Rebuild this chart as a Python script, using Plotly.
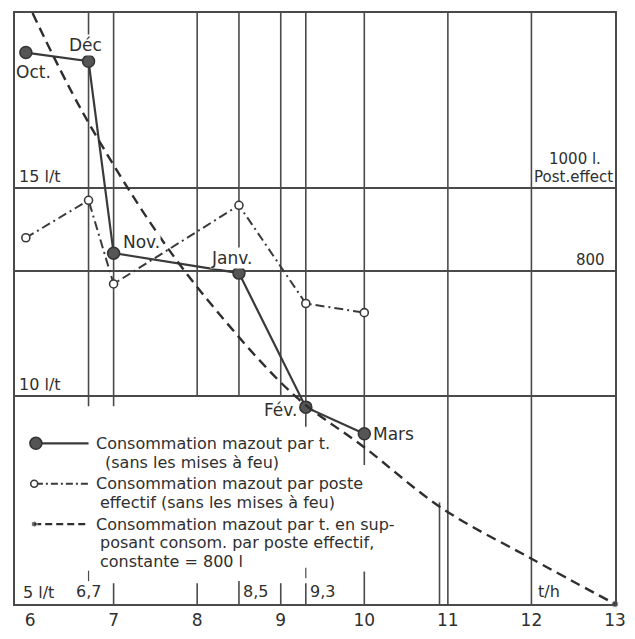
import plotly.graph_objects as go

# ---- data -------------------------------------------------------------
months = ["Oct.", "Déc", "Nov.", "Janv.", "Fév.", "Mars"]
tonnes_per_hour = [5.95, 6.7, 7.0, 8.5, 9.3, 10.0]          # t/h
fuel_per_tonne = [18.25, 18.04, 13.43, 12.95, 9.73, 9.09]   # l/t (sans les mises à feu)
fuel_per_shift = [880, 970, 769, 958, 722, 700]             # l par poste effectif

# fuel per tonne if the consumption per shift stayed at 800 l
curve_tph = [6.03, 6.62, 7.52, 8.23, 9.17, 9.99, 10.93, 11.99, 13.0]
curve_fuel = [19.2, 16.85, 13.92, 12.05, 10.0, 8.78, 7.3, 6.1, 5.0]

x_ticks = [6, 7, 8, 9, 10, 11, 12, 13]
y_ticks = [5, 10, 15]
y_ticktext = ["5 l/t", "10 l/t", "15 l/t"]
y2_ticks = [800, 1000]
y2_ticktext = ["800", "Post.effect"]
y2_unit = "1000 l."
ref_marks = [6.7, 8.5, 9.3]
ref_labels = ["6,7", "8,5", "9,3"]

legend_lines = [
    ["Consommation mazout par t.", "(sans les mises à feu)"],
    ["Consommation mazout par poste", "effectif (sans les mises à feu)"],
    ["Consommation mazout par t. en sup-", "posant consom. par poste effectif,",
     "constante = 800 l"],
]

# ---- style ------------------------------------------------------------
INK = "#3a3a3a"
GRID = "#4a4a4a"
TEXT = "#2f2f2f"
FONT = "DejaVu Sans"
X_RANGE = [5.82, 13.0]
Y_RANGE = [5.0, 19.2]
Y2_RANGE = [0, 1420]

# vertical rules: x, lower end of the upper part, upper end of the lower part
v_rules = [
    (6.7, 9.75, None), (7, 9.75, 5.5), (8, 10.0, 5.5), (8.5, 10.0, 5.55),
    (9, 10.0, 5.5), (9.3, 9.26, 5.5), (10, 8.34, 5.78), (11, 5.0, None),
    (12, 5.0, None),
]
extra_rule = (10.9, 7.44)
ref_tick_span = {6.7: (5.55, 5.8), 9.3: (5.62, 5.87)}

label_pos = {  # xanchor, xshift, yshift
    "Oct.": ("left", -11, -19),
    "Déc": ("center", -3, 16),
    "Nov.": ("left", 8, 11),
    "Janv.": ("center", -7, 15),
    "Fév.": ("right", -8, -3),
    "Mars": ("left", 8, 0),
}

fig = go.Figure()

# measured consumption per tonne
fig.add_trace(go.Scatter(
    x=tonnes_per_hour, y=fuel_per_tonne, mode="lines+markers",
    line=dict(color=INK, width=2.2),
    marker=dict(size=12, color="#555555", line=dict(color="#333333", width=1.5)),
    hoverinfo="skip",
))

# consumption per effective shift (right scale)
fig.add_trace(go.Scatter(
    x=tonnes_per_hour, y=fuel_per_shift, mode="lines+markers", yaxis="y2",
    line=dict(color=INK, width=2, dash="9px,4px,2px,4px"),
    marker=dict(size=8, color="white", line=dict(color=INK, width=1.6)),
    hoverinfo="skip",
))

# constant 800 l per shift curve
fig.add_trace(go.Scatter(
    x=curve_tph, y=curve_fuel, mode="lines+markers",
    line=dict(color="#2e2e2e", width=2.4, dash="10px,6px", shape="spline", smoothing=1.0),
    marker=dict(size=[0] * (len(curve_tph) - 1) + [7], color="#2e2e2e"),
    cliponaxis=False, hoverinfo="skip",
))

# legend keys
key_x0, key_x1 = 6.07, 6.70
key_rows_y = [8.86, 7.89, 6.92]
fig.add_trace(go.Scatter(x=[key_x0, key_x1], y=[key_rows_y[0]] * 2, mode="lines",
                         line=dict(color=INK, width=2.2), hoverinfo="skip"))
fig.add_trace(go.Scatter(x=[key_x0], y=[key_rows_y[0]], mode="markers",
                         marker=dict(size=12, color="#555555", line=dict(color="#333333", width=1.5)),
                         hoverinfo="skip"))
fig.add_trace(go.Scatter(x=[key_x0, key_x1], y=[key_rows_y[1]] * 2, mode="lines",
                         line=dict(color=INK, width=2, dash="7px,3px,2px,3px"), hoverinfo="skip"))
fig.add_trace(go.Scatter(x=[key_x0 - 0.02], y=[key_rows_y[1]], mode="markers",
                         marker=dict(size=7, color="white", line=dict(color=INK, width=1.6)),
                         hoverinfo="skip"))
fig.add_trace(go.Scatter(x=[key_x0 - 0.02, key_x1], y=[key_rows_y[2]] * 2, mode="lines+markers",
                         line=dict(color="#2e2e2e", width=2.2, dash="7px,4px"),
                         marker=dict(size=[6, 0], color="#2e2e2e"), hoverinfo="skip"))

shapes = []
line_style = dict(color=GRID, width=1.6)
for x, low_end, high_start in v_rules:
    shapes.append(dict(type="line", xref="x", yref="y", x0=x, x1=x,
                       y0=Y_RANGE[1], y1=low_end, line=line_style, layer="below"))
    if high_start is not None:
        shapes.append(dict(type="line", xref="x", yref="y", x0=x, x1=x,
                           y0=high_start, y1=Y_RANGE[0], line=line_style, layer="below"))
shapes.append(dict(type="line", xref="x", yref="y", x0=extra_rule[0], x1=extra_rule[0],
                   y0=extra_rule[1], y1=Y_RANGE[0], line=line_style, layer="below"))
for x, span in ref_tick_span.items():
    shapes.append(dict(type="line", xref="x", yref="y", x0=x, x1=x,
                       y0=span[0], y1=span[1], line=dict(color=GRID, width=1.2)))

annotations = []
txt = dict(family=FONT, size=17, color=TEXT)
for name, x, y in zip(months, tonnes_per_hour, fuel_per_tonne):
    anchor, dx, dy = label_pos[name]
    annotations.append(dict(x=x, y=y, xref="x", yref="y", text=name, showarrow=False,
                            xanchor=anchor, yanchor="middle", xshift=dx, yshift=dy, font=txt,
                            bgcolor="white", borderpad=0))

# scale labels written inside the frame
small = dict(family=FONT, size=16, color=TEXT)
for val, lab in zip(y_ticks, y_ticktext):
    annotations.append(dict(x=0, y=val, xref="paper", yref="y", text=lab, showarrow=False,
                            xanchor="left", yanchor="bottom", xshift=(6 if val == 5 else 2),
                            yshift=0, font=small))
for val, lab in zip(y2_ticks, y2_ticktext):
    annotations.append(dict(x=1, y=val, xref="paper", yref="y2", text=lab, showarrow=False,
                            xanchor="right", yanchor="bottom", xshift=(-8 if val == 800 else 0),
                            yshift=0, font=dict(family=FONT, size=15, color=TEXT)))
annotations.append(dict(x=1, y=y2_ticks[-1], xref="paper", yref="y2", text=y2_unit,
                        showarrow=False, xanchor="right", yanchor="bottom", xshift=-12,
                        yshift=18, font=dict(family=FONT, size=15, color=TEXT)))

for x, lab in zip(ref_marks, ref_labels):
    anchor = "center" if x == 6.7 else "left"
    annotations.append(dict(x=x, y=Y_RANGE[0], xref="x", yref="y", text=lab, showarrow=False,
                            xanchor=anchor, yanchor="bottom", xshift=(0 if anchor == "center" else 2),
                            yshift=1, font=small))
annotations.append(dict(x=12.05, y=Y_RANGE[0], xref="x", yref="y", text="t/h", showarrow=False,
                        xanchor="left", yanchor="bottom", yshift=1, font=small))

leg_font = dict(family=FONT, size=16, color=TEXT)
text_rows = [
    [(6.78, 8.86), (6.89, 8.41)],
    [(6.78, 7.89), (6.82, 7.44)],
    [(6.78, 6.92), (6.82, 6.47), (6.82, 6.02)],
]
for lines, pos in zip(legend_lines, text_rows):
    for line, (lx, ly) in zip(lines, pos):
        annotations.append(dict(x=lx, y=ly, xref="x", yref="y", text=line, showarrow=False,
                                xanchor="left", yanchor="middle", font=leg_font, borderpad=0))

fig.update_layout(
    width=635, height=639,
    margin=dict(l=15, r=9, t=13, b=26),
    paper_bgcolor="white", plot_bgcolor="white",
    showlegend=False,
    font=dict(family=FONT, size=16, color=TEXT),
    shapes=shapes, annotations=annotations,
    xaxis=dict(range=X_RANGE, tickvals=x_ticks, ticks="", showgrid=False, zeroline=False,
               showline=True, mirror=True, linecolor=GRID, linewidth=2,
               tickfont=dict(family=FONT, size=17, color=TEXT)),
    yaxis=dict(range=Y_RANGE, tickvals=y_ticks, showticklabels=False, ticks="",
               showgrid=True, gridcolor=GRID, gridwidth=1.6,
               zeroline=False, showline=True, mirror=True, linecolor=GRID, linewidth=2),
    yaxis2=dict(range=Y2_RANGE, overlaying="y", side="right", tickvals=y2_ticks,
                showticklabels=False, ticks="", showgrid=True, gridcolor=GRID,
                gridwidth=1.6, zeroline=False),
)

fig.write_html("out.html")
